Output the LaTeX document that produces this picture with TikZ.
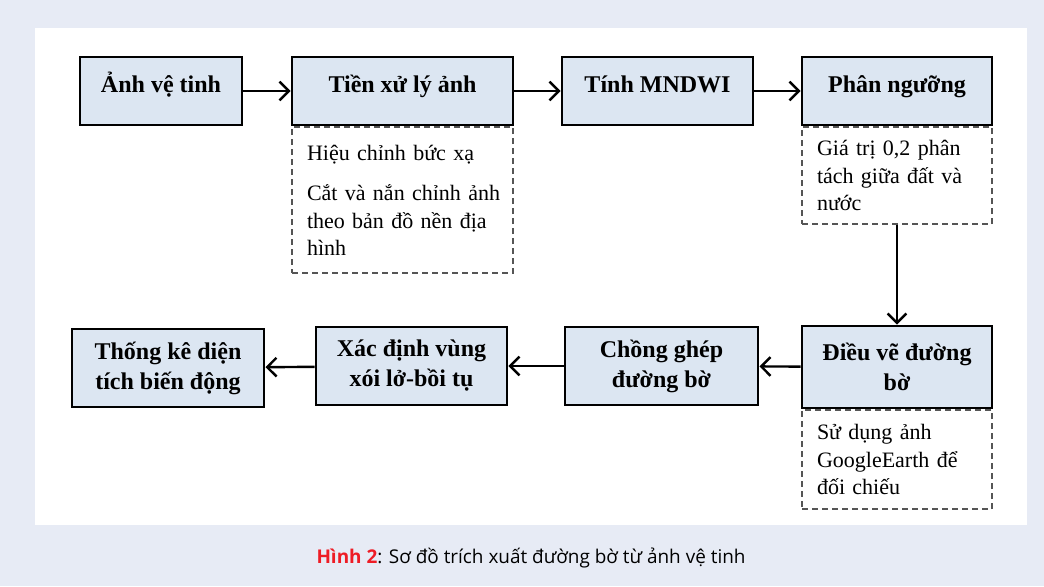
\documentclass[tikz,border=0pt]{standalone}
\usepackage{fontspec}
\setmainfont{Liberation Serif}
\newfontfamily\capfont{Open Sans}
\usetikzlibrary{arrows.meta}
\usetikzlibrary{positioning}

\definecolor{pagebg}{HTML}{E7EBF5}
\definecolor{boxfill}{HTML}{DCE6F2}
\definecolor{notedash}{HTML}{555555}
\definecolor{capred}{HTML}{EE1C25}

\begin{document}
\begin{tikzpicture}[x=0.75pt,y=-0.75pt,
    stepbox/.style={draw=black, line width=2.2pt, fill=boxfill, inner sep=0pt,
        font=\fontsize{18}{22.5}\selectfont\bfseries, align=center},
    topbox/.style={stepbox, text height=26.25pt, text depth=24.75pt},
    notebox/.style={draw=notedash, dash pattern=on 4.5pt off 3pt, line width=0.9pt, fill=white, inner xsep=11.25pt,
        inner ysep=0pt, font=\fontsize{16.5}{20.5}\selectfont, align=left, anchor=north},
    flow/.style={line width=1.8pt, -{Straight Barb[length=7pt,width=14pt,line width=1.8pt]}}]

    \fill[pagebg] (0,0) rectangle (1044,586);
    \fill[white] (35,28) rectangle (1027,525);

    % top row
    \node[topbox, minimum width=121.5pt] (anh) at (161,91) {Ảnh vệ tinh};
    \node[topbox, minimum width=165.75pt] (tienxl) at (402.5,91) {Tiền xử lý ảnh};
    \node[topbox, minimum width=143.25pt] (mndwi) at (657.5,91) {Tính MNDWI};
    \node[topbox, minimum width=142.5pt] (nguong) at (897,91) {Phân ngưỡng};

    \node[notebox, minimum width=165.75pt, minimum height=109.5pt, text width=143.25pt]
        (ghichu2) at (tienxl.south) {\mbox{Hiệu chỉnh bức xạ}\\[10pt]\mbox{Cắt và nắn chỉnh ảnh}\\\mbox{theo bản đồ nền địa}\\hình};
    \node[notebox, minimum width=142.5pt, minimum height=72.75pt, text width=120pt]
        (ghichu4) at (nguong.south) {\mbox{Giá trị 0,2 phân}\\\mbox{tách giữa đất và}\\nước};

    % bottom row
    \node[stepbox, minimum width=142.5pt, minimum height=61.5pt] (dieuve) at (897,367) {Điều vẽ đường\\bờ};
    \node[stepbox, minimum width=144.75pt, minimum height=58.5pt] (chong) at (661.5,366) {Chồng ghép\\đường bờ};
    \node[stepbox, minimum width=143.25pt, minimum height=58.5pt] (xacdinh) at (411.5,366) {Xác định vùng\\xói lở-bồi tụ};
    \node[stepbox, minimum width=144pt, minimum height=58.5pt] (thongke) at (168,368) {Thống kê diện\\tích biến động};

    \node[notebox, minimum width=142.5pt, minimum height=74.25pt, text width=120pt]
        (ghichu5) at (dieuve.south) {\mbox{Sử dụng ảnh}\\\mbox{GoogleEarth để}\\\mbox{đối chiếu}};

    \draw[flow] (anh) -- (tienxl);
    \draw[flow] (tienxl) -- (mndwi);
    \draw[flow] (mndwi) -- (nguong);
    \draw[flow] (ghichu4) -- (dieuve);
    \draw[flow] (dieuve) -- (chong);
    \draw[flow] (chong) -- (xacdinh);
    \draw[flow] (xacdinh) -- (thongke);

    \node[anchor=base, font=\capfont\fontsize{14.2}{17}\selectfont] (chuthich) at (531,563)
        {\textcolor{capred}{\bfseries Hình 2}: Sơ đồ trích xuất đường bờ từ ảnh vệ tinh};
\end{tikzpicture}
\end{document}
